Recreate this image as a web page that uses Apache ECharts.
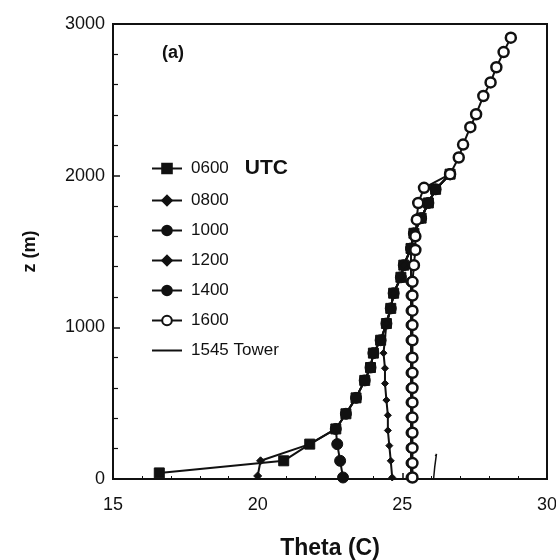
<!DOCTYPE html>
<html>
<head>
<meta charset="utf-8">
<script src="https://cdn.jsdelivr.net/npm/echarts@6/dist/echarts.min.js"></script>
<style>
  html, body { margin: 0; padding: 0; background: #fff; }
  #chart { width: 556px; height: 560px; }
</style>
</head>
<body>
<div id="chart"></div>
<script>
// Potential temperature profiles, theta (C) vs height z (m)

// Shared upper profile that the daytime soundings merge into
const commonTheta = [21.8, 22.7, 23.05, 23.4, 23.7, 23.9, 24.0, 24.25, 24.45, 24.6, 24.7, 24.95, 25.05, 25.3, 25.4, 25.65, 25.9, 26.15, 26.65, 26.95, 27.1, 27.35, 27.55, 27.8, 28.05, 28.25, 28.5, 28.75];
const commonZ     = [230, 330, 430, 535, 650, 735, 830, 915, 1025, 1125, 1225, 1330, 1410, 1520, 1620, 1720, 1820, 1910, 2010, 2120, 2205, 2320, 2405, 2525, 2615, 2715, 2815, 2910];

// Near-surface parts of each sounding
const theta0600 = [16.6, 20.9];
const z0600     = [40, 120];
const theta0800 = [20.0, 20.1];
const z0800     = [20, 120];
const theta1000 = [22.95, 22.85, 22.75];
const z1000     = [10, 120, 230];
const theta1200 = [24.65, 24.6, 24.55, 24.5, 24.5, 24.45, 24.4, 24.4, 24.35];
const z1200     = [10, 120, 220, 320, 420, 520, 630, 730, 830];
const theta1400 = [25.3, 25.3, 25.3, 25.3, 25.3, 25.3, 25.3, 25.3, 25.3, 25.3, 25.3, 25.3, 25.3, 25.3];
const z1400     = [10, 105, 205, 305, 405, 505, 600, 700, 800, 915, 1015, 1110, 1210, 1300];
const theta1600 = [25.35, 25.35, 25.35, 25.35, 25.35, 25.35, 25.35, 25.35, 25.35, 25.35, 25.35, 25.35, 25.35, 25.35, 25.4, 25.45, 25.45, 25.5, 25.55, 25.75];
const z1600     = [10, 105, 205, 305, 405, 505, 600, 700, 800, 915, 1015, 1110, 1210, 1300, 1410, 1510, 1600, 1710, 1820, 1920];
const thetaTower = [26.08, 26.12, 26.18, 26.14];
const zTower     = [0, 80, 165, 150];

// Where each sounding joins the common profile (index range into commonTheta/commonZ)
const joinFrom = { '0600': 0, '0800': 0, '1000': 1, '1200': 8, '1400': 13, '1600': 18 };
const joinTo   = { '0600': 19, '0800': 19, '1000': 19, '1200': 19, '1400': 19, '1600': commonZ.length };

const xTicks = [15, 20, 25, 30];
const yTicks = [0, 1000, 2000, 3000];

function pairs(th, z) { return th.map((t, i) => [t, z[i]]); }
function profile(key, th, z) {
  const lower = pairs(th, z);
  const upper = pairs(commonTheta.slice(joinFrom[key], joinTo[key]), commonZ.slice(joinFrom[key], joinTo[key]));
  return lower.concat(upper);
}

const FONT = '"Liberation Sans", Arial, sans-serif';
const INK = '#111';
const CLEAR = 'rgba(0,0,0,0)';

function sounding(name, key, th, z, symbol, size, open) {
  return {
    name: name,
    type: 'line',
    data: profile(key, th, z),
    symbol: symbol,
    symbolSize: size,
    showSymbol: true,
    lineStyle: { color: INK, width: 2 },
    itemStyle: open
      ? { color: '#fff', borderColor: INK, borderWidth: 2.5 }
      : { color: INK, borderColor: INK, borderWidth: 1 },
    animation: false,
    z: open ? 5 : 3
  };
}

const chart = echarts.init(document.getElementById('chart'), null, { renderer: 'canvas' });

chart.setOption({
  backgroundColor: '#fff',
  animation: false,
  textStyle: { fontFamily: FONT, color: INK },
  grid: {
    left: 113, right: 9, top: 24, bottom: 81,
    containLabel: false,
    outerBoundsMode: 'none',
    show: true, borderColor: INK, borderWidth: 2, backgroundColor: 'transparent'
  },
  xAxis: {
    type: 'value',
    min: xTicks[0], max: xTicks[xTicks.length - 1], interval: 5,
    name: 'Theta (C)',
    nameLocation: 'middle',
    nameGap: 58,
    nameTextStyle: { fontFamily: FONT, fontSize: 23, fontWeight: 'bold', color: INK },
    axisLine: { show: true, lineStyle: { color: INK, width: 2 } },
    axisTick: { show: true, inside: true, length: 6, lineStyle: { color: INK, width: 1.5 } },
    minorTick: { show: true, splitNumber: 5, length: 3, lineStyle: { color: INK, width: 1 } },
    axisLabel: { fontFamily: FONT, fontSize: 18, color: INK, margin: 17, formatter: v => String(v) },
    splitLine: { show: false }
  },
  yAxis: {
    type: 'value',
    min: yTicks[0], max: yTicks[yTicks.length - 1], interval: 1000,
    name: 'z (m)',
    nameLocation: 'middle',
    nameGap: 74,
    nameRotate: 90,
    nameTextStyle: { fontFamily: FONT, fontSize: 18, fontWeight: 'bold', color: INK },
    axisLine: { show: true, lineStyle: { color: INK, width: 2 } },
    axisTick: { show: true, inside: true, length: 7, lineStyle: { color: INK, width: 1.5 } },
    minorTick: { show: true, splitNumber: 5, length: 5, lineStyle: { color: INK, width: 1.2 } },
    axisLabel: { fontFamily: FONT, fontSize: 18, color: INK, margin: 8, formatter: v => String(v) },
    splitLine: { show: false }
  },
  legend: {
    orient: 'vertical',
    left: 146,
    top: 153,
    itemWidth: 30,
    itemHeight: 12,
    itemGap: 13,
    textStyle: {
      fontFamily: FONT, fontSize: 17, color: INK, padding: [0, 0, 0, 4],
      rich: { u: { fontFamily: FONT, fontSize: 21, fontWeight: 'bold', color: INK, padding: [0, 0, 0, 16] } }
    },
    formatter: function (name) {
      if (name === '0600 UTC') return '0600{u|UTC}';
      return name;
    },
    data: ['0600 UTC', '0800', '1000', '1200', '1400', '1600',
      { name: '1545 Tower', itemStyle: { color: CLEAR, borderColor: CLEAR, borderWidth: 0 } }]
  },
  graphic: [{
    type: 'text',
    left: 162, top: 44,
    style: { text: '(a)', font: 'bold 18px ' + FONT, fill: INK }
  }],
  series: [
    sounding('0600 UTC', '0600', theta0600, z0600, 'rect', 10, false),
    sounding('0800', '0800', theta0800, z0800, 'diamond', 8, false),
    sounding('1000', '1000', theta1000, z1000, 'circle', 11, false),
    sounding('1200', '1200', theta1200, z1200, 'diamond', 7, false),
    sounding('1400', '1400', theta1400, z1400, 'circle', 10, false),
    sounding('1600', '1600', theta1600, z1600, 'circle', 10, true),
    {
      name: '1545 Tower',
      type: 'line',
      data: pairs(thetaTower, zTower),
      symbol: 'none',
      showSymbol: false,
      lineStyle: { color: INK, width: 1.5 },
      itemStyle: { color: INK },
      animation: false,
      z: 4
    }
  ]
});
</script>
</body>
</html>
